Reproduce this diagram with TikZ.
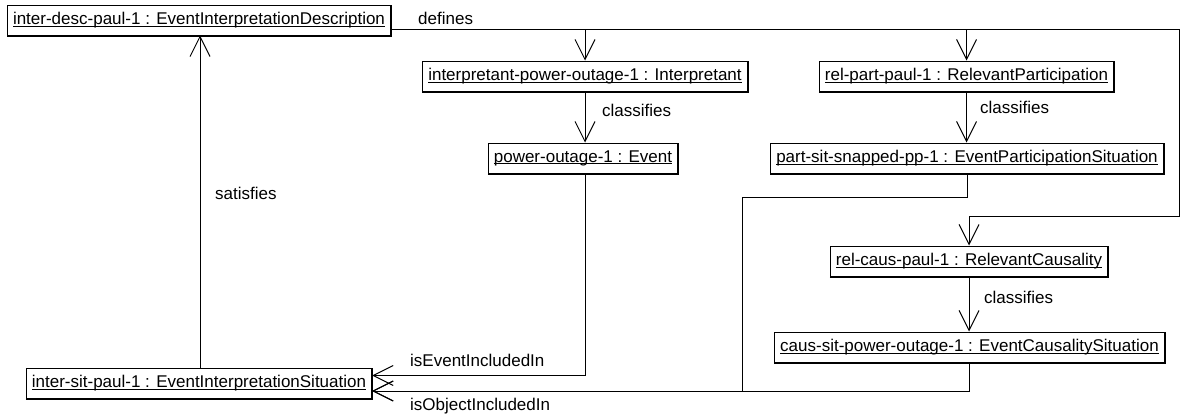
\documentclass[tikz,border=0pt]{standalone}
\usepackage{fontspec}
\setmainfont{Liberation Sans}
\usetikzlibrary{arrows.meta}
\newcommand\myul[1]{\setbox0\hbox{#1}\rlap{\rule[-2.2pt]{\wd0}{1pt}}\box0}
\tikzset{
  obj/.style={draw, line width=1pt, inner xsep=5.5pt, inner ysep=0pt, minimum height=30pt, fill=white, font=\fontsize{17}{20}\selectfont},
  lbl/.style={inner sep=0pt, anchor=west, font=\fontsize{17}{20}\selectfont},
  conn/.style={line width=0.9pt, -{Straight Barb[length=20pt,width=20pt,line width=1pt]}},
}
\begin{document}
\begin{tikzpicture}[x=1pt,y=-1pt]
\useasboundingbox (0,0) rectangle (1183,413);
\node[obj] (desc) at (199,20) {\myul{inter-desc-paul-1 : EventInterpretationDescription}};
\node[obj] (interp) at (585,76) {\myul{interpretant-power-outage-1 : Interpretant}};
\node[obj] (event) at (583,158) {\myul{power-outage-1 : Event}};
\node[obj] (relpart) at (966.5,76) {\myul{rel-part-paul-1 : RelevantParticipation}};
\node[obj] (partsit) at (967,158) {\myul{part-sit-snapped-pp-1 : EventParticipationSituation}};
\node[obj] (relcaus) at (969,261) {\myul{rel-caus-paul-1 : RelevantCausality}};
\node[obj] (caussit) at (969.5,347) {\myul{caus-sit-power-outage-1 : EventCausalitySituation}};
\node[obj] (intersit) at (199,383.5) {\myul{inter-sit-paul-1 : EventInterpretationSituation}};
\foreach \n in {desc,interp,event,relpart,partsit,relcaus,caussit,intersit}
  \draw[line width=1pt] ([yshift=-0.7pt]\n.south west) -- ([shift={(0.7pt,-0.7pt)}]\n.south east) -- ([xshift=0.7pt]\n.north east);
\coordinate (rc1) at (1179,29);
\coordinate (rc2) at (1179,216);
\coordinate (p1) at (742,197);
\draw[conn] ([yshift=-9pt]desc.east) -| (interp.north);
\draw[conn] ([yshift=-9pt]desc.east) -| (relpart.north);
\draw[conn] ([yshift=-9pt]desc.east) -- (rc1) -- (rc2) -| (relcaus.north);
\draw[conn] (interp.south) -- (interp.south |- event.north);
\draw[conn] (relpart.south) -- (relpart.south |- partsit.north);
\draw[conn] (relcaus.south) -- (relcaus.south |- caussit.north);
\draw[conn] ([xshift=2pt]event.south) |- ([yshift=8pt]intersit.east);
\draw[conn] (partsit.south) |- (p1) |- ([yshift=-7.5pt]intersit.east);
\draw[conn] (caussit.south) |- ([yshift=-7.5pt]intersit.east);
\draw[conn] ([xshift=1pt]intersit.north) -- ([xshift=1pt]intersit.north |- desc.south);
\node[lbl] (ldef) at (418,18) {defines};
\node[lbl] (lc1) at (602,110) {classifies};
\node[lbl] (lc2) at (980,107) {classifies};
\node[lbl] (lc3) at (984,297) {classifies};
\node[lbl] (lsat) at (215,193) {satisfies};
\node[lbl] (lev) at (410,360) {isEventIncludedIn};
\node[lbl] (lob) at (410,406) {isObjectIncludedIn};
\end{tikzpicture}
\end{document}
